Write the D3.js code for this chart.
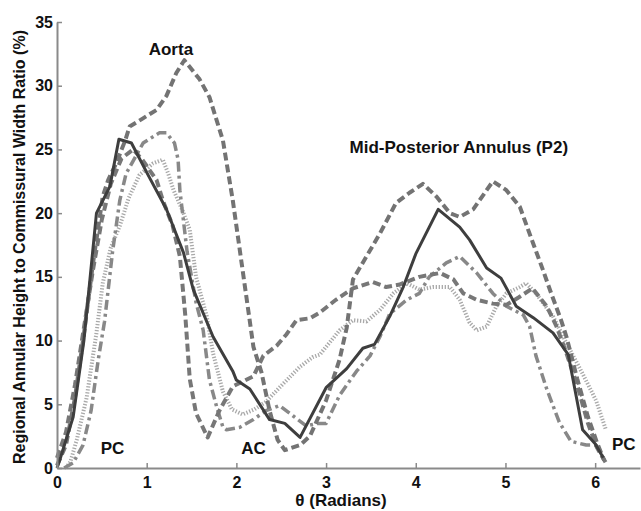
<!DOCTYPE html>
<html>
<head>
<meta charset="utf-8">
<script src="https://cdn.jsdelivr.net/npm/d3@7"></script>
<style>
  body { margin: 0; background: #fff; }
  svg { display: block; font-family: "Liberation Sans", Arial, sans-serif; }
</style>
</head>
<body>
<svg id="svg" width="641" height="511"></svg>
<script>
const w = 641;
const h = 511;

// tick values
const xTicks = [0, 1, 2, 3, 4, 5, 6];
const yTicks = [0, 5, 10, 15, 20, 25, 30, 35];

// series, [theta, ratio %]
const solidMean = [
  [0, 0], [0.03, 0.6], [0.1, 2.2], [0.18, 4.0], [0.3, 10], [0.44, 20], [0.59, 22.1],
  [0.69, 25.8], [0.83, 25.5], [1.0, 23.2], [1.22, 20.3], [1.41, 16.9], [1.52, 14],
  [1.74, 10.3], [1.96, 7.6], [2.0, 6.9], [2.15, 6.2], [2.37, 3.8], [2.54, 3.5],
  [2.71, 2.4], [3.0, 6.3], [3.23, 7.8], [3.41, 9.4], [3.54, 9.7], [3.71, 11.9],
  [3.86, 14.2], [4.0, 16.8], [4.25, 20.3], [4.49, 18.9], [4.6, 17.9], [4.79, 15.7],
  [4.95, 14.9], [5.12, 12.7], [5.31, 11.8], [5.53, 10.6], [5.7, 8.9], [5.86, 3.0],
  [6.0, 1.9], [6.09, 0.8]
];

const dashedA = [
  [0, 0.2], [0.1, 1.8], [0.2, 5.5], [0.3, 10.5], [0.4, 16], [0.51, 21.3], [0.57, 22.6],
  [0.66, 23.9], [0.76, 25.7], [0.81, 26.8], [0.95, 27.4], [1.11, 28.1], [1.22, 29.2],
  [1.33, 31], [1.42, 32.0], [1.59, 30.5], [1.7, 29.1], [1.85, 25.7], [1.96, 21.0],
  [2.06, 16], [2.19, 9.5], [2.28, 7.5], [2.37, 4.5], [2.46, 2.2], [2.54, 1.4],
  [2.71, 1.8], [2.82, 2.5], [3.0, 5.3], [3.15, 8.5], [3.23, 11], [3.3, 14.8],
  [3.45, 16.6], [3.6, 18.4], [3.78, 20.8], [3.93, 21.6], [4.08, 22.3], [4.23, 21.3],
  [4.38, 20.0], [4.49, 19.7], [4.64, 20.3], [4.79, 21.8], [4.86, 22.5], [5.01, 21.8],
  [5.16, 20.5], [5.31, 17.6], [5.42, 15.5], [5.51, 13.7], [5.62, 11.6], [5.68, 10.3],
  [5.8, 7], [5.92, 4], [6.02, 2], [6.1, 0.6]
];

const dashedB = [
  [0, 0.8], [0.1, 2.8], [0.2, 6.5], [0.3, 11], [0.4, 15.5], [0.5, 19.5], [0.6, 22.3],
  [0.72, 24.3], [0.85, 25.0], [0.95, 24.2], [1.11, 22.6], [1.18, 21], [1.29, 19.0],
  [1.37, 16.6], [1.43, 12], [1.48, 7], [1.55, 4.3], [1.68, 2.4], [1.81, 4.5],
  [1.96, 6.4], [2.19, 7.2], [2.3, 8.8], [2.45, 9.6], [2.56, 10.5], [2.67, 11.6],
  [2.82, 11.75], [2.93, 12.2], [3.11, 13.2], [3.3, 14.1], [3.52, 14.6], [3.67, 14.2],
  [3.82, 14.4], [4.04, 15.0], [4.27, 15.3], [4.42, 14.8], [4.53, 13.7], [4.68, 13.2],
  [4.86, 12.9], [5.01, 12.8], [5.15, 13.4], [5.3, 14.1], [5.46, 12.7], [5.57, 11.1],
  [5.68, 9], [5.8, 6.5], [5.92, 3.5], [6.02, 1.6], [6.12, 0.4]
];

const dashDot = [
  [0.08, 0], [0.18, 0.4], [0.29, 1.8], [0.38, 4.5], [0.46, 8.5], [0.53, 11.5],
  [0.62, 17], [0.7, 21], [0.77, 23.1], [0.96, 25.5], [1.14, 26.3], [1.22, 26.3],
  [1.31, 25.5], [1.35, 24.2], [1.37, 21.8], [1.45, 17], [1.55, 13], [1.63, 10.8],
  [1.7, 6.9], [1.78, 4.8], [1.85, 3.2], [1.89, 3.0], [2.04, 3.2], [2.19, 3.8],
  [2.33, 4.5], [2.48, 4.9], [2.63, 4.1], [2.78, 3.3], [2.9, 3.5], [3.0, 3.5],
  [3.15, 5.7], [3.34, 7.6], [3.49, 8.8], [3.6, 10.3], [3.71, 12.1], [3.9, 13.2],
  [4.04, 13.7], [4.15, 15.0], [4.34, 16.1], [4.49, 16.6], [4.68, 15.3], [4.86, 13.7],
  [5.01, 12.7], [5.2, 12.0], [5.27, 11.1], [5.34, 8.8], [5.46, 6.2], [5.6, 3.6],
  [5.73, 2.1], [5.9, 1.8], [6.02, 1.8]
];

const dotted = [
  [0.1, 0], [0.15, 0.5], [0.22, 2.2], [0.33, 5.5], [0.44, 10.6], [0.51, 14.5],
  [0.6, 17.3], [0.7, 19], [0.8, 21.2], [0.92, 23], [1.07, 23.9], [1.18, 24.2],
  [1.24, 23.1], [1.3, 21.8], [1.4, 20.2], [1.48, 18.7], [1.55, 15], [1.67, 11.9],
  [1.74, 9], [1.85, 6], [1.95, 4.6], [2.07, 4.2], [2.2, 4.6], [2.33, 5.2], [2.52, 6.6],
  [2.71, 7.95], [2.85, 8.7], [2.93, 8.9], [3.15, 10.8], [3.3, 11.6], [3.45, 11.5],
  [3.6, 12.4], [3.75, 13.7], [3.9, 14.5], [4.04, 14.0], [4.19, 14.2], [4.38, 14.2],
  [4.49, 13.2], [4.6, 11.4], [4.68, 10.8], [4.79, 11.1], [4.9, 12.7], [5.01, 13.7],
  [5.16, 14.2], [5.23, 14.5], [5.34, 13.7], [5.53, 11.9], [5.68, 9.8], [5.86, 7.4],
  [6.01, 5.3], [6.12, 3.0]
];

// region labels, anchored in data space
const notes = [
  { text: "Aorta", x: 1.27, y: 32.4 },
  { text: "Mid-Posterior Annulus (P2)", x: 4.48, y: 24.7 },
  { text: "PC", x: 0.62, y: 1.1 },
  { text: "AC", x: 2.19, y: 1.1 },
  { text: "PC", x: 6.32, y: 1.4 }
];

let svg = d3.select("#svg");

let xScale = d3.scaleLinear([0, 6.5], [57, 640]);
let yScale = d3.scaleLinear([0, 35], [468, 22]);

let lineFunc = d3
  .line()
  .x((d) => xScale(d[0]))
  .y((d) => yScale(d[1]));

// draw order: light ones under, solid on top
const styles = [
  { data: dotted, color: "#a9a9a9", width: 4, dash: "1.3,1.7" },
  { data: dashDot, color: "#888", width: 3.5, dash: "10,4,3,4" },
  { data: dashedB, color: "#777", width: 4, dash: "8,4" },
  { data: dashedA, color: "#737373", width: 4, dash: "8,4" },
  { data: solidMean, color: "#3e3e3e", width: 3, dash: null }
];

styles.forEach((s) => {
  svg
    .append("path")
    .datum(s.data)
    .attr("fill", "none")
    .attr("stroke", s.color)
    .attr("stroke-width", s.width)
    .attr("stroke-dasharray", s.dash)
    .attr("stroke-linejoin", "round")
    .attr("d", lineFunc);
});

// axes (ticks point inward)
let xAxis = svg
  .append("g")
  .attr("transform", `translate(0,${yScale(0)})`)
  .call(
    d3.axisBottom(xScale).tickValues(xTicks).tickFormat(d3.format("d"))
      .tickSizeInner(-5).tickSizeOuter(0).tickPadding(9)
  );

let yAxis = svg
  .append("g")
  .attr("transform", `translate(${xScale(0)},0)`)
  .call(
    d3.axisLeft(yScale).tickValues(yTicks).tickFormat(d3.format("d"))
      .tickSizeInner(-5).tickSizeOuter(0).tickPadding(4)
  );

[xAxis, yAxis].forEach((g) => {
  g.select(".domain").attr("stroke", "#8a8a8a").attr("stroke-width", 2);
  g.selectAll(".tick line").attr("stroke", "#8a8a8a").attr("stroke-width", 1.5);
  g.selectAll(".tick text")
    .attr("fill", "#111")
    .style("font-size", "16px")
    .style("font-weight", "bold")
    .style("font-family", "'Liberation Sans', Arial, sans-serif");
});

// axis titles
svg
  .append("text")
  .attr("x", 341)
  .attr("y", 506)
  .attr("text-anchor", "middle")
  .style("font-size", "17px")
  .style("font-weight", "bold")
  .attr("fill", "#111")
  .text("θ (Radians)");

svg
  .append("text")
  .attr("transform", "translate(25,247) rotate(-90)")
  .attr("text-anchor", "middle")
  .style("font-size", "16px")
  .style("font-weight", "bold")
  .attr("fill", "#111")
  .text("Regional Annular Height to Commissural Width Ratio (%)");

svg
  .selectAll(".note")
  .data(notes)
  .enter()
  .append("text")
  .attr("class", "note")
  .attr("x", (d) => xScale(d.x))
  .attr("y", (d) => yScale(d.y))
  .attr("text-anchor", "middle")
  .style("font-size", "17px")
  .style("font-weight", "bold")
  .attr("fill", "#111")
  .text((d) => d.text);
</script>
</body>
</html>
